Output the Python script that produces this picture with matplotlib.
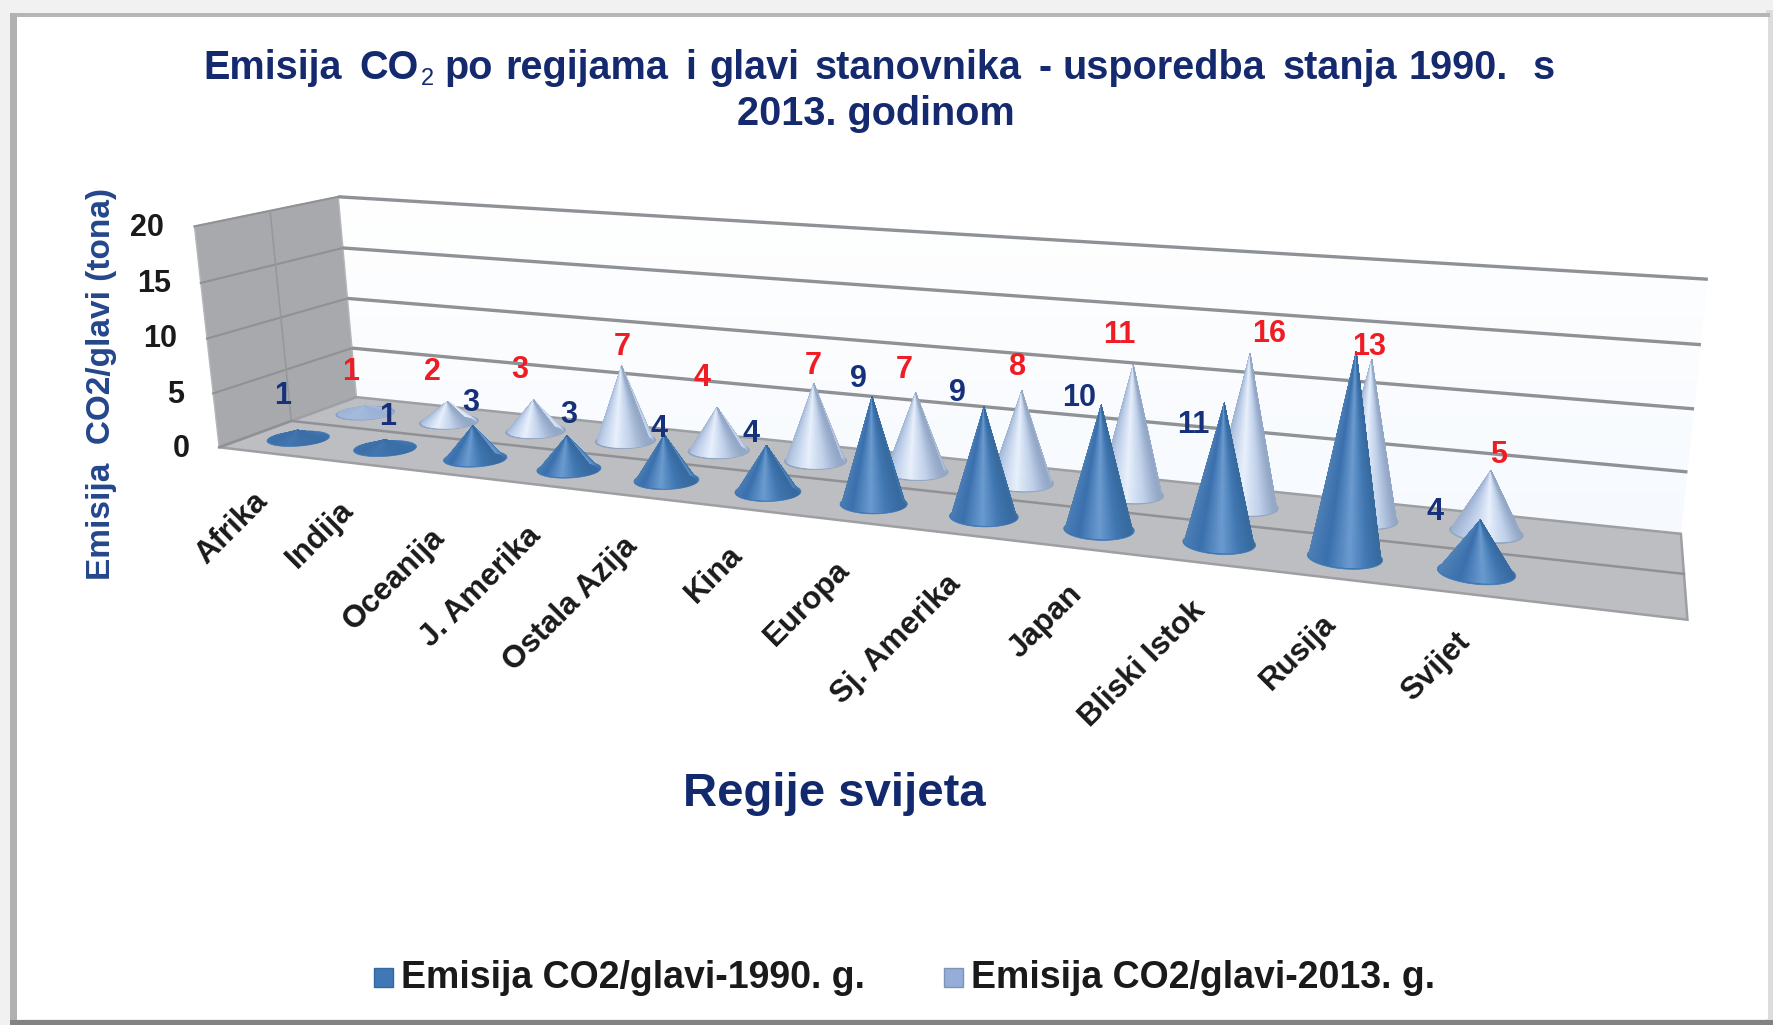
import numpy as np
import matplotlib
matplotlib.use("Agg")
import matplotlib.pyplot as plt
from matplotlib.collections import PolyCollection
from matplotlib.colors import LinearSegmentedColormap, to_rgba
from matplotlib.patches import Polygon, Rectangle

plt.rcParams['font.family'] = ['Liberation Sans', 'DejaVu Sans']

# ---------- data ----------
regions = ["Afrika", "Indija", "Oceanija", "J. Amerika", "Ostala Azija", "Kina", "Europa",
           "Sj. Amerika", "Japan", "Bliski Istok", "Rusija", "Svijet"]
cone_1990 = [0.8, 0.8, 3, 3, 4, 4, 9, 9, 10, 11, 15.7, 4]
cone_2013 = [0.7, 2, 3, 7, 4, 7, 7, 8, 11, 12.7, 13, 5]
labels_1990 = ["1", "1", "3", "3", "4", "4", "9", "9", "10", "11", "", "4"]
labels_2013 = ["1", "2", "3", "7", "4", "7", "7", "8", "11", "16", "13", "5"]
z_ticks = [0, 5, 10, 15, 20]
series_names = ["Emisija CO2/glavi-1990. g.", "Emisija CO2/glavi-2013. g."]
title_words = ["po", "regijama", "i", "glavi", "stanovnika", "-", "usporedba", "stanja", "1990.", "s"]

# ---------- layout (pixel positions measured on the 1568-wide view) ----------
K = 1773 / 1568
N_SLOTS = 13
calib_world = [(0,0,0),(0,1,0),(N_SLOTS,1,0),(N_SLOTS,0,0),(0,0,20),(0,1,20),(N_SLOTS,1,20),
               (0,1,5),(0,1,10),(0,1,15),(N_SLOTS,1,5),(N_SLOTS,1,10),(N_SLOTS,1,15)]
calib_view = [(194,396),(315,351),(1487,471),(1492,549),(172,199),(299,175),(1510,247),
              (311,308),(308,264),(303,219),(1492,417),(1498,362),(1505,305)]

A = []
for (u, d, z), (x, y) in zip(calib_world, calib_view):
    x, y = x * K, y * K
    A.append([u, d, z, 1, 0, 0, 0, 0, -x*u, -x*d, -x*z, -x])
    A.append([0, 0, 0, 0, u, d, z, 1, -y*u, -y*d, -y*z, -y])
P = np.linalg.svd(np.array(A))[2][-1].reshape(3, 4)


def proj(u, d, z):
    u, d, z = np.broadcast_arrays(np.asarray(u, float), np.asarray(d, float), np.asarray(z, float))
    h = P @ np.stack([u, d, z, np.ones_like(u)])
    return h[0] / h[2], h[1] / h[2]


fig = plt.figure(figsize=(17.73, 10.25), dpi=100, facecolor='#f2f2f2')
ax = fig.add_axes([0, 0, 1, 1])
ax.set_axis_off()

# ---------- frame ----------
ax.add_patch(Rectangle((0, 0), 1773, 1025, fc='#f1f1f1', ec='none', zorder=0))
ax.add_patch(Rectangle((1766, 10), 7, 1015, fc='#dcdcdc', ec='none', zorder=0.05))
ax.add_patch(Rectangle((10, 13), 1760, 4, fc='#b4b5b7', ec='none', zorder=0.1))
ax.add_patch(Rectangle((10, 13), 7, 1007, fc='#b0b1b3', ec='none', zorder=0.1))
ax.add_patch(Rectangle((17, 17), 1751, 1002, fc='white', ec='none', zorder=0.2))
ax.add_patch(Rectangle((10, 1020), 1763, 5, fc='#808284', ec='none', zorder=0.25))

# ---------- walls ----------
def quad(c1, c2, c3, c4):
    xs, ys = proj(*np.array([c1, c2, c3, c4]).T)
    return np.column_stack([xs, ys])

back = Polygon(quad((0,1,0),(N_SLOTS,1,0),(N_SLOTS,1,20),(0,1,20)), fc='none', ec='none', zorder=1)
ax.add_patch(back)
grad = np.linspace(0, 1, 200)[:, None]
cm_back = LinearSegmentedColormap.from_list('b', ['#ffffff', '#f5f9fe'])
im = ax.imshow(grad, extent=(300, 1720, 570, 190), cmap=cm_back, aspect='auto', zorder=1)
im.set_clip_path(back)
ax.add_patch(Polygon(quad((0,0,0),(0,1,0),(0,1,20),(0,0,20)), fc='#a7a9ac', ec='#b5b7ba', lw=1, zorder=1.2))
ax.add_patch(Polygon(quad((0,0,0),(0,1,0),(N_SLOTS,1,0),(N_SLOTS,0,0)), fc='#bdbec1', ec='#9d9fa2', lw=1.8, zorder=1.3))

for z in z_ticks:
    if z > 0:
        x, y = proj([0, N_SLOTS], [1, 1], [z, z])
        ax.plot(x, y, color='#8e9195', lw=2.4, zorder=1.5, solid_capstyle='butt')
        x, y = proj([0, 0], [0, 1], [z, z])
        ax.plot(x, y, color='#8f9194', lw=1.5, zorder=1.5)
x, y = proj([0, 0], [0.5, 0.5], [0, 20])
ax.plot(x, y, color='#96989b', lw=1.2, zorder=1.5)
x, y = proj([0, 0, N_SLOTS], [0, 0.5, 0.5], [0, 0, 0])
ax.plot(x, y, color='#8f9194', lw=1.8, zorder=1.5)

# ---------- cones ----------
cm_dark = LinearSegmentedColormap.from_list('d', [(0, '#4f80b6'), (0.3, '#3a70ad'), (0.62, '#6c9cd0'),
                                                   (0.85, '#4178b3'), (1, '#376a9f')])
cm_light = LinearSegmentedColormap.from_list('l', [(0, '#9db0cf'), (0.2, '#b9cbe7'), (0.55, '#e9f1fc'),
                                                    (0.8, '#c3d3ec'), (1, '#93a7c6')])
R_U, R_D = 0.29, 0.135


def cone(i, depth, value, cmap, rim, flat, zo):
    u = i + 0.5
    t = np.linspace(0, 2 * np.pi, 241)
    bx, by = proj(u + R_U * np.cos(t), depth + R_D * np.sin(t), 0 * t)
    ax.add_patch(Polygon(np.column_stack([bx, by]), fc=rim, ec=rim, lw=0.5, zorder=zo))
    ix, iy = proj(u + 0.96 * R_U * np.cos(t), depth + 0.86 * R_D * np.sin(t), 0 * t)
    ax_, ay_ = proj(u, depth, value)
    mix = min(1.0, value / 2.0) ** 2
    polys, cols = [], []
    for k in range(240):
        polys.append([(float(ax_), float(ay_)), (ix[k], iy[k]), (ix[k + 1], iy[k + 1])])
        c = np.array(cmap((np.cos(t[k]) + 1) / 2))
        cols.append(tuple(mix * c + (1 - mix) * np.array(to_rgba(flat))))
    ax.add_collection(PolyCollection(polys, facecolors=cols, edgecolors=cols, linewidths=0.4, zorder=zo + 0.1))


for i, v in enumerate(cone_2013):
    cone(i, 0.75, v, cm_light, '#8ea3c1', '#9cb4d8', 2 + i * 0.01)
for i, v in enumerate(cone_1990):
    cone(i, 0.25, v, cm_dark, '#3d77b6', '#3c6fa8', 3 + i * 0.01)

# ---------- data labels ----------
pos_1990 = [(250,350),(343,369),(416,356),(503,367),(583,379),(664,384),(759,335),(847,348),(954,352),(1055,376),(0,0),(1269,453)]
pos_2013 = [(310,329),(382,329),(460,327),(550,307),(621,334),(719,324),(800,327),(900,325),(990,296),(1122,295),(1211,307),(1325,402)]
for (x, y), s in zip(pos_1990, labels_1990):
    if s:
        ax.text(x * K, y * K, s, color='#17307a', fontsize=22, fontweight='bold', ha='center', va='center', zorder=6)
for (x, y), s in zip(pos_2013, labels_2013):
    ax.text(x * K, y * K, s, color='#f01c24', fontsize=22, fontweight='bold', ha='center', va='center', zorder=6)

# ---------- axis text ----------
tick_pos = [(160,397),(155,349),(142,300),(136,251),(130,202)]
for (x, y), z in zip(tick_pos, z_ticks):
    ax.text(x * K, y * K, str(z), color='#1a1a1a', fontsize=22, fontweight='bold', ha='center', va='center', zorder=6)

cat_pos = [(205,467),(283,473),(349,512),(425,519),(505,534),(632,508),(714,534),(793,566),(925,550),(1010,587),(1148,577),(1270,590)]
for (x, y), s in zip(cat_pos, regions):
    ax.text(x * K, y * K, s, color='#1a1a1a', fontsize=22.5, ha='center', va='center', rotation=45,
            fontweight='bold', zorder=6)

ax.text(90 * K, 340 * K, "Emisija  CO2/glavi (tona)", color='#24478c', fontsize=24, fontweight='bold',
        rotation=90, ha='center', va='center')
ax.text(738 * K, 702 * K, "Regije svijeta", color='#12296e', fontsize=34, fontweight='bold', ha='center', va='center')

# ---------- title ----------
tc = '#14296e'
title_x = [393, 447, 606, 627, 720, 918, 940, 1134, 1246, 1355]
ax.text(180 * K, 60 * K, "Emisija", color=tc, fontsize=28.5, fontweight='bold', ha='left', va='center')
ax.text(318 * K, 60 * K, "CO", color=tc, fontsize=28.5, fontweight='bold', ha='left', va='center')
ax.text(372 * K, 70 * K, "2", color=tc, fontsize=17, ha='left', va='center')
for x, w in zip(title_x, title_words):
    ax.text(x * K, 60 * K, w, color=tc, fontsize=28.5, fontweight='bold', ha='left', va='center')
ax.text(775 * K, 101 * K, "2013. godinom", color=tc, fontsize=28.5, fontweight='bold', ha='center', va='center')

# ---------- legend ----------
for x0, name, fc, ec in [(331, series_names[0], '#3f78b5', '#35689f'), (835, series_names[1], '#95add9', '#7f93b5')]:
    ax.add_patch(Rectangle((x0 * K, 856 * K), 17 * K, 17 * K, fc=fc, ec=ec, lw=1, zorder=5))
    ax.text((x0 + 24) * K, 865 * K, name, color='#1a1a1a', fontsize=27, fontweight='bold', ha='left', va='center')

ax.set_xlim(0, 1773)
ax.set_ylim(1025, 0)
fig.savefig("out.png", dpi=100, facecolor=fig.get_facecolor())
